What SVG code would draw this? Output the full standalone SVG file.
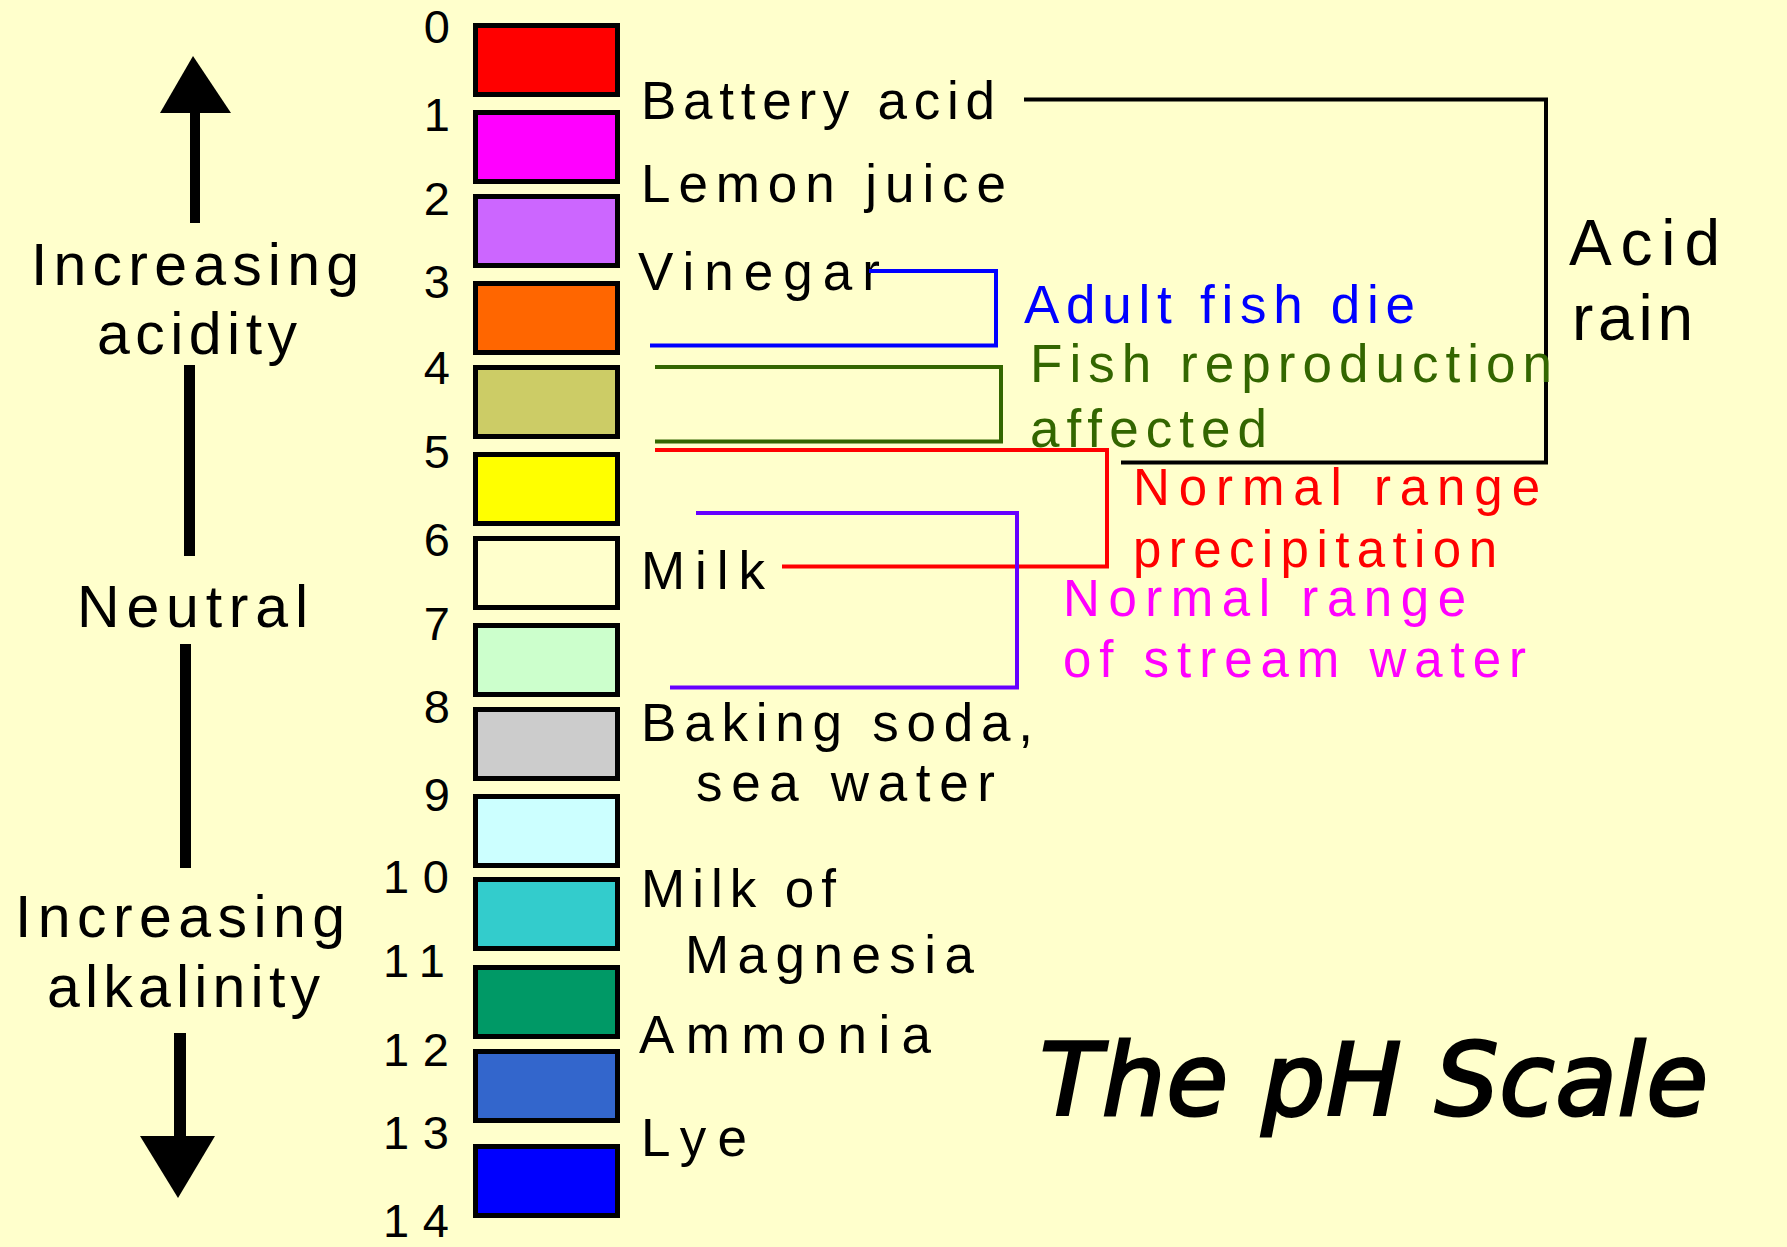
<svg xmlns="http://www.w3.org/2000/svg" width="1787" height="1247" viewBox="0 0 1787 1247">
<style>
.bx{stroke:#000;stroke-width:5}
.t{font-family:"Liberation Sans",Arial,sans-serif;font-size:53px;fill:#000}
.n{font-family:"Liberation Sans",Arial,sans-serif;font-size:47px;fill:#000}
.s{font-family:"Liberation Sans",Arial,sans-serif;font-size:59px;fill:#000}
.e{font-size:51px}
.c{fill:none;stroke-width:4}
</style>
<rect width="1787" height="1247" fill="#FFFFCC"/>
<g id="scale-boxes">
<rect id="ph0" class="bx" x="475.5" y="25.5" width="142" height="69" fill="#FF0000"/>
<rect id="ph1" class="bx" x="475.5" y="112.5" width="142" height="69" fill="#FF00FF"/>
<rect id="ph2" class="bx" x="475.5" y="196.5" width="142" height="69" fill="#CC66FF"/>
<rect id="ph3" class="bx" x="475.5" y="283.5" width="142" height="69" fill="#FF6600"/>
<rect id="ph4" class="bx" x="475.5" y="367.5" width="142" height="69" fill="#CCCC66"/>
<rect id="ph5" class="bx" x="475.5" y="454.5" width="142" height="69" fill="#FFFF00"/>
<rect id="ph6" class="bx" x="475.5" y="538.5" width="142" height="69" fill="#FFFFCC"/>
<rect id="ph7" class="bx" x="475.5" y="625.5" width="142" height="69" fill="#CCFFCC"/>
<rect id="ph8" class="bx" x="475.5" y="709.5" width="142" height="69" fill="#CCCCCC"/>
<rect id="ph9" class="bx" x="475.5" y="796.5" width="142" height="69" fill="#CCFFFF"/>
<rect id="ph10" class="bx" x="475.5" y="879.5" width="142" height="69" fill="#33CCCC"/>
<rect id="ph11" class="bx" x="475.5" y="967.5" width="142" height="69" fill="#009966"/>
<rect id="ph12" class="bx" x="475.5" y="1051.5" width="142" height="69" fill="#3366CC"/>
<rect id="ph13" class="bx" x="475.5" y="1146.5" width="142" height="69" fill="#0000FF"/>
</g>
<g id="numbers">
<text class="n" x="450" y="43" text-anchor="end">0</text>
<text class="n" x="450" y="131" text-anchor="end">1</text>
<text class="n" x="450" y="215" text-anchor="end">2</text>
<text class="n" x="450" y="298" text-anchor="end">3</text>
<text class="n" x="450" y="384" text-anchor="end">4</text>
<text class="n" x="450" y="468" text-anchor="end">5</text>
<text class="n" x="450" y="556" text-anchor="end">6</text>
<text class="n" x="450" y="640" text-anchor="end">7</text>
<text class="n" x="450" y="723" text-anchor="end">8</text>
<text class="n" x="450" y="811" text-anchor="end">9</text>
<text class="n" x="383" y="893" textLength="66">10</text>
<text class="n" x="383" y="977" textLength="62">11</text>
<text class="n" x="383" y="1066" textLength="66">12</text>
<text class="n" x="383" y="1149" textLength="66">13</text>
<text class="n" x="383" y="1237" textLength="66">14</text>
</g>
<g id="substances">
<text class="t" x="641" y="119" textLength="354">Battery acid</text>
<text class="t" x="641" y="202" textLength="365">Lemon juice</text>
<text class="t" x="638" y="290" textLength="242">Vinegar</text>
<text class="t" x="641" y="589" textLength="124">Milk</text>
<text class="t" x="641" y="741" textLength="392">Baking soda,</text>
<text class="t" x="696" y="801" textLength="299">sea water</text>
<text class="t" x="641" y="907" textLength="195">Milk of</text>
<text class="t" x="685" y="973" textLength="289">Magnesia</text>
<text class="t" x="639" y="1053" textLength="292">Ammonia</text>
<text class="t" x="641" y="1156" textLength="106">Lye</text>
</g>
<g id="connectors">
<path class="c" stroke="#000" d="M1024,99.5 H1546 V462.5 H1121"/>
<path class="c" stroke="#0000FF" d="M869,271 H996 V345.5 H650"/>
<path class="c" stroke="#336600" d="M655,367 H1001 V441.5 H655"/>
<path class="c" stroke="#FF0000" d="M655,450 H1107 V566.5 H782"/>
<path class="c" stroke="#6600FF" d="M696,513 H1017 V687.5 H670"/>
</g>
<g id="effects">
<text class="t" x="1024" y="323" textLength="391" style="fill:#0000FF">Adult fish die</text>
<text class="t" x="1030" y="382" textLength="522" style="fill:#336600">Fish reproduction</text>
<text class="t" x="1030" y="447" textLength="237" style="fill:#336600">affected</text>
<text class="t e" x="1133" y="505" textLength="407" style="fill:#FF0000">Normal range</text>
<text class="t e" x="1133" y="567" textLength="364" style="fill:#FF0000">precipitation</text>
<text class="t e" x="1063" y="616" textLength="403" style="fill:#FF00FF">Normal range</text>
<text class="t e" x="1063" y="677" textLength="463" style="fill:#FF00FF">of stream water</text>
<text class="t" x="1569" y="265" textLength="151" style="font-size:64px">Acid</text>
<text class="t" x="1572" y="340" textLength="121" style="font-size:64px">rain</text>
</g>
<g id="axis">
<rect x="190" y="110" width="10" height="113" fill="#000"/>
<polygon points="193,56 231,113 160,113" fill="#000"/>
<rect x="184" y="365" width="11" height="191" fill="#000"/>
<rect x="180" y="644" width="11" height="224" fill="#000"/>
<rect x="174" y="1033" width="12" height="106" fill="#000"/>
<polygon points="140,1136 215,1136 178,1198" fill="#000"/>
<text class="s" x="31" y="285" textLength="328">Increasing</text>
<text class="s" x="97" y="354" textLength="200">acidity</text>
<text class="s" x="77" y="627" textLength="231">Neutral</text>
<text class="s" x="15" y="937" textLength="330">Increasing</text>
<text class="s" x="47" y="1007" textLength="273">alkalinity</text>
</g>
<g id="title">
<text x="1040" y="1115" textLength="668" style="font-family:'DejaVu Sans',sans-serif;font-size:100px;font-style:italic;fill:#000;stroke:#000;stroke-width:3">The pH Scale</text>
</g>
</svg>
